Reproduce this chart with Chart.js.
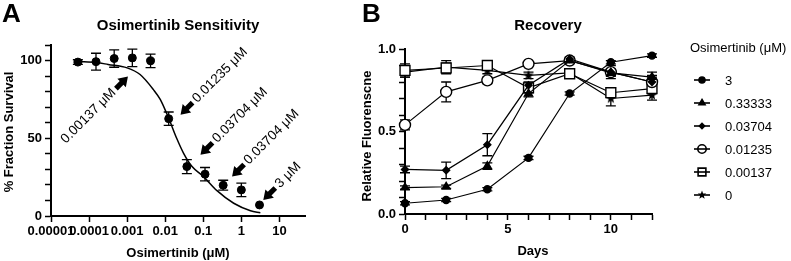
<!DOCTYPE html>
<html>
<head>
<meta charset="utf-8">
<script src="https://cdn.jsdelivr.net/npm/chart.js@4.4.0/dist/chart.umd.min.js"></script>
<style>
  html, body { margin: 0; padding: 0; background: #fff; }
  #wrap { position: relative; width: 791px; height: 261px; }
  canvas { position: absolute; top: 0; }
  #chartA { left: 0; }
  #chartB { left: 345px; }
</style>
</head>
<body>
<div id="wrap">
  <canvas id="chartA" width="345" height="261"></canvas>
  <canvas id="chartB" width="446" height="261"></canvas>
</div>
<script>
// ---- Panel A: Osimertinib sensitivity ----
const doseX = [0.0000508, 0.000152, 0.000457, 0.00137, 0.00412, 0.01235, 0.03704, 0.1111, 0.3333, 1, 3];
const survival = [99.0, 99.3, 101.3, 101.7, 99.8, 62.6, 31.8, 26.9, 19.8, 16.8, 7.1];
const survivalErr = [1.5, 5.4, 5.6, 5.6, 4.3, 4.3, 4.5, 4.3, 3.2, 4.3, 0];

// fitted curve
const fitX = [0.00005, 0.000158, 0.000316, 0.001, 0.00219, 0.0049, 0.0074, 0.0123, 0.02, 0.0302, 0.05, 0.1, 0.229, 0.63, 1.74, 3.16];
const fitY = [99.3, 98.7, 97.5, 95.3, 91, 81.3, 75, 63, 50, 40.5, 32, 25.5, 16.3, 8.2, 3.4, 2.1];

const doseTicks = [0.00001, 0.0001, 0.001, 0.01, 0.1, 1, 10];

const arrowLabels = ["0.00137 μM", "0.01235 μM", "0.03704 μM", "0.03704 μM", "3 μM"];
const arrowX = [0.00105, 0.0253, 0.0845, 0.571, 3.77];
const arrowY = [89.7, 65.2, 39.4, 25.4, 10.3];
const arrowUp = [true, false, false, false, false];

// ---- Panel B: Recovery ----
const days = [0, 2, 4, 6, 8, 10, 12];
const concLabels = ["3", "0.33333", "0.03704", "0.01235", "0.00137", "0"];

const fluor3 = [0.065, 0.085, 0.15, 0.34, 0.73, 0.92, 0.96];
const fluor033 = [0.16, 0.165, 0.29, 0.73, 0.93, 0.855, 0.83];
const fluor0037 = [0.27, 0.265, 0.42, 0.78, 0.94, 0.86, 0.80];
const fluor0012 = [0.54, 0.74, 0.81, 0.91, 0.93, 0.86, 0.80];
const fluor0001 = [0.87, 0.885, 0.90, 0.765, 0.85, 0.735, 0.76];
const fluor0 = [0.86, 0.89, 0.87, 0.84, 0.855, 0.70, 0.72];

const err3 = [0.01, 0.01, 0.01, 0.01, 0.01, 0.01, 0.01];
const err033 = [0.01, 0.01, 0.02, 0.02, 0.01, 0.02, 0.03];
const err0037 = [0.02, 0.05, 0.067, 0.02, 0.01, 0.04, 0.04];
const err0012 = [0.03, 0.06, 0.02, 0.01, 0.01, 0.02, 0.03];
const err0001 = [0.04, 0.03, 0.02, 0.03, 0.02, 0.03, 0.03];
const err0 = [0.03, 0.04, 0.02, 0.02, 0.02, 0.045, 0.03];

const fontFam = '"Liberation Sans", Arial, Helvetica, sans-serif';
Chart.defaults.font.family = fontFam;
Chart.defaults.color = "#000";

// filled five point star used as a marker
function makeStar(size) {
  const c = document.createElement("canvas");
  c.width = size;
  c.height = size;
  const g = c.getContext("2d");
  const cx = size / 2, cy = size / 2, ro = size / 2 - 0.5, ri = ro * 0.42;
  g.beginPath();
  for (let i = 0; i < 10; i++) {
    const r = i % 2 === 0 ? ro : ri;
    const a = -Math.PI / 2 + (i * Math.PI) / 5;
    const px = cx + r * Math.cos(a), py = cy + r * Math.sin(a);
    if (i === 0) g.moveTo(px, py);
    else g.lineTo(px, py);
  }
  g.closePath();
  g.fillStyle = "#000";
  g.fill();
  return c;
}
const starMarker = makeStar(12);
const starSmall = makeStar(10);

const axisGrid = {
  drawOnChartArea: false,
  drawTicks: true,
  tickLength: 6,
  tickColor: "#000",
  tickWidth: 1.5,
};
const axisBorder = { display: true, color: "#000", width: 2 };
const tickFont = { size: 13, weight: "bold", family: fontFam };

// Error bars drawn under the markers
const errorBars = {
  id: "errorBars",
  beforeDatasetsDraw(chart) {
    const { ctx } = chart;
    const xs = chart.scales.x, ys = chart.scales.y;
    chart.data.datasets.forEach((ds) => {
      if (!ds.errors) return;
      ctx.save();
      ctx.strokeStyle = "#000";
      ctx.lineWidth = 1.3;
      ds.data.forEach((p, i) => {
        const e = ds.errors[i];
        if (!e) return;
        const px = xs.getPixelForValue(p.x);
        const top = ys.getPixelForValue(p.y + e);
        const bot = ys.getPixelForValue(p.y - e);
        const cap = 5;
        ctx.beginPath();
        ctx.moveTo(px, top);
        ctx.lineTo(px, bot);
        ctx.moveTo(px - cap, top);
        ctx.lineTo(px + cap, top);
        ctx.moveTo(px - cap, bot);
        ctx.lineTo(px + cap, bot);
        ctx.stroke();
      });
      ctx.restore();
    });
  },
};

function drawArrow(ctx, tx, ty, dx, dy) {
  const L = 17, H = 9, hw = 6, sw = 2.6;
  const nx = -dy, ny = dx;
  const bx = tx - dx * H, by = ty - dy * H;
  const ex = tx - dx * L, ey = ty - dy * L;
  ctx.beginPath();
  ctx.moveTo(tx, ty);
  ctx.lineTo(bx + nx * hw, by + ny * hw);
  ctx.lineTo(bx + nx * sw, by + ny * sw);
  ctx.lineTo(ex + nx * sw, ey + ny * sw);
  ctx.lineTo(ex - nx * sw, ey - ny * sw);
  ctx.lineTo(bx - nx * sw, by - ny * sw);
  ctx.lineTo(bx - nx * hw, by - ny * hw);
  ctx.closePath();
  ctx.fill();
}

function verticalText(ctx, text, x, y) {
  ctx.save();
  ctx.translate(x, y);
  ctx.rotate(-Math.PI / 2);
  ctx.textAlign = "center";
  ctx.textBaseline = "middle";
  ctx.fillText(text, 0, 0);
  ctx.restore();
}

const panelAText = {
  id: "panelAText",
  afterDraw(chart) {
    const { ctx } = chart;
    const xs = chart.scales.x, ys = chart.scales.y;
    ctx.save();
    ctx.fillStyle = "#000";
    ctx.textBaseline = "alphabetic";
    ctx.textAlign = "left";
    ctx.font = `bold 26px ${fontFam}`;
    ctx.fillText("A", 2, 22);

    ctx.textAlign = "center";
    ctx.font = `bold 15px ${fontFam}`;
    ctx.fillText("Osimertinib Sensitivity", 178, 30);

    ctx.font = `bold 13px ${fontFam}`;
    ctx.fillText("Osimertinib (μM)", 178, 257);
    verticalText(ctx, "% Fraction Survival", 9, 132);

    // arrows with labels
    ctx.font = `13.5px ${fontFam}`;
    const s = Math.SQRT1_2;
    arrowLabels.forEach((lab, i) => {
      const tx = xs.getPixelForValue(arrowX[i]);
      const ty = ys.getPixelForValue(arrowY[i]);
      const up = arrowUp[i];
      const dx = up ? s : -s, dy = up ? -s : s;
      drawArrow(ctx, tx, ty, dx, dy);
      const ax = tx - dx * 20, ay = ty - dy * 20;
      ctx.save();
      ctx.translate(ax, ay);
      ctx.rotate(-Math.PI / 4);
      ctx.textAlign = up ? "right" : "left";
      ctx.textBaseline = "middle";
      ctx.fillText(lab, 0, 0);
      ctx.restore();
    });
    ctx.restore();
  },
};

function fmtDose(v) {
  if (v >= 1) return String(v);
  return v.toFixed(Math.round(-Math.log10(v)));
}

new Chart(document.getElementById("chartA"), {
  type: "scatter",
  data: {
    datasets: [
      {
        label: "Survival",
        data: doseX.map((x, i) => ({ x: x, y: survival[i] })),
        errors: survivalErr,
        pointStyle: "circle",
        pointRadius: 4,
        pointBackgroundColor: "#000",
        pointBorderColor: "#000",
        showLine: false,
        clip: false,
      },
      {
        type: "line",
        label: "Fit",
        data: fitX.map((x, i) => ({ x: x, y: fitY[i] })),
        borderColor: "#000",
        borderWidth: 1.5,
        pointRadius: 0,
        cubicInterpolationMode: "monotone",
        fill: false,
        clip: false,
      },
    ],
  },
  options: {
    responsive: false,
    animation: false,
    devicePixelRatio: 1,
    layout: { padding: { top: 45, right: 40, left: 0, bottom: 0 } },
    plugins: { legend: { display: false }, tooltip: { enabled: false } },
    scales: {
      x: {
        type: "logarithmic",
        min: 0.00001,
        max: 47,
        afterFit: (sc) => { sc.height = 45; },
        afterBuildTicks: (sc) => { sc.ticks = doseTicks.map((v) => ({ value: v })); },
        ticks: { autoSkip: false, maxRotation: 0, padding: 2, font: tickFont, color: "#000", callback: (v) => fmtDose(v) },
        grid: axisGrid,
        border: axisBorder,
      },
      y: {
        type: "linear",
        min: 0,
        max: 110,
        afterFit: (sc) => { sc.width = 51; },
        ticks: { stepSize: 10, autoSkip: false, padding: 3, font: tickFont, color: "#000", callback: (v) => (v % 50 === 0 ? String(v) : "") },
        grid: axisGrid,
        border: axisBorder,
      },
    },
  },
  plugins: [errorBars, panelAText],
});

// ---- Panel B ----
const seriesValues = [fluor3, fluor033, fluor0037, fluor0012, fluor0001, fluor0];
const seriesErrors = [err3, err033, err0037, err0012, err0001, err0];
const markerStyles = ["circle", "triangle", "rectRot", "circle", "rect", starMarker];
const legendStyles = ["circle", "triangle", "rectRot", "circle", "rect", starSmall];
const markerRadius = [3.5, 4.5, 3.5, 5.5, 7, 6];
const legendRadius = [3, 3.5, 2.6, 4.2, 5.5, 5];
const markerFill = ["#000", "#000", "#000", "#fff", "#fff", "#000"];

const recoverySets = concLabels.map((lab, k) => ({
  label: lab,
  data: seriesValues[k].map((v, i) => ({ x: days[i], y: v })),
  errors: seriesErrors[k],
  showLine: true,
  borderColor: "#000",
  borderWidth: 1.2,
  pointStyle: markerStyles[k],
  pointRadius: markerRadius[k],
  pointBackgroundColor: markerFill[k],
  pointBorderColor: "#000",
  pointBorderWidth: 1.4,
  clip: false,
}));

function legendMarker(ctx, k, x, y) {
  ctx.save();
  ctx.fillStyle = markerFill[k];
  ctx.strokeStyle = "#000";
  ctx.lineWidth = 1.6;
  if (Chart.helpers && Chart.helpers.drawPoint) {
    Chart.helpers.drawPoint(ctx, { pointStyle: legendStyles[k], rotation: 0, radius: legendRadius[k], borderWidth: 1.6 }, x, y);
  } else {
    ctx.beginPath();
    ctx.arc(x, y, 3, 0, Math.PI * 2);
    ctx.fill();
    ctx.stroke();
  }
  ctx.restore();
}

const panelBText = {
  id: "panelBText",
  afterDraw(chart) {
    const { ctx } = chart;
    ctx.save();
    ctx.fillStyle = "#000";
    ctx.textAlign = "left";
    ctx.textBaseline = "alphabetic";
    ctx.font = `bold 26px ${fontFam}`;
    ctx.fillText("B", 17, 22);

    ctx.textAlign = "center";
    ctx.font = `bold 15px ${fontFam}`;
    ctx.fillText("Recovery", 203, 30);

    ctx.font = `bold 13px ${fontFam}`;
    ctx.fillText("Days", 188, 255);
    verticalText(ctx, "Relative Fluorenscne", 22, 136);

    // legend: marker first, then the short line over it
    ctx.textAlign = "left";
    ctx.font = `13px ${fontFam}`;
    ctx.fillText("Osimertinib (μM)", 345, 52);
    const rowY = [80, 103, 126, 149, 172, 195];
    concLabels.forEach((lab, k) => {
      const y = rowY[k];
      legendMarker(ctx, k, 357, y);
      ctx.strokeStyle = "#000";
      ctx.lineWidth = 1.6;
      ctx.beginPath();
      ctx.moveTo(349, y);
      ctx.lineTo(365, y);
      ctx.stroke();
      ctx.fillStyle = "#000";
      ctx.textBaseline = "middle";
      ctx.fillText(lab, 380, y + 1);
    });
    ctx.restore();
  },
};

new Chart(document.getElementById("chartB"), {
  type: "scatter",
  data: { datasets: recoverySets },
  options: {
    responsive: false,
    animation: false,
    devicePixelRatio: 1,
    layout: { padding: { top: 49, right: 139, left: 0, bottom: 0 } },
    plugins: { legend: { display: false }, tooltip: { enabled: false } },
    scales: {
      x: {
        type: "linear",
        min: 0,
        max: 12,
        afterFit: (sc) => { sc.height = 47; },
        ticks: { stepSize: 1, autoSkip: false, maxRotation: 0, padding: 2, font: tickFont, color: "#000", callback: (v) => (v % 5 === 0 ? String(v) : "") },
        grid: axisGrid,
        border: axisBorder,
      },
      y: {
        type: "linear",
        min: 0,
        max: 1,
        afterFit: (sc) => { sc.width = 60; },
        ticks: { stepSize: 0.1, autoSkip: false, padding: 3, font: tickFont, color: "#000", callback: (v) => (Math.round(v * 10) % 5 === 0 ? v.toFixed(1) : "") },
        grid: axisGrid,
        border: axisBorder,
      },
    },
  },
  plugins: [errorBars, panelBText],
});
</script>
</body>
</html>
